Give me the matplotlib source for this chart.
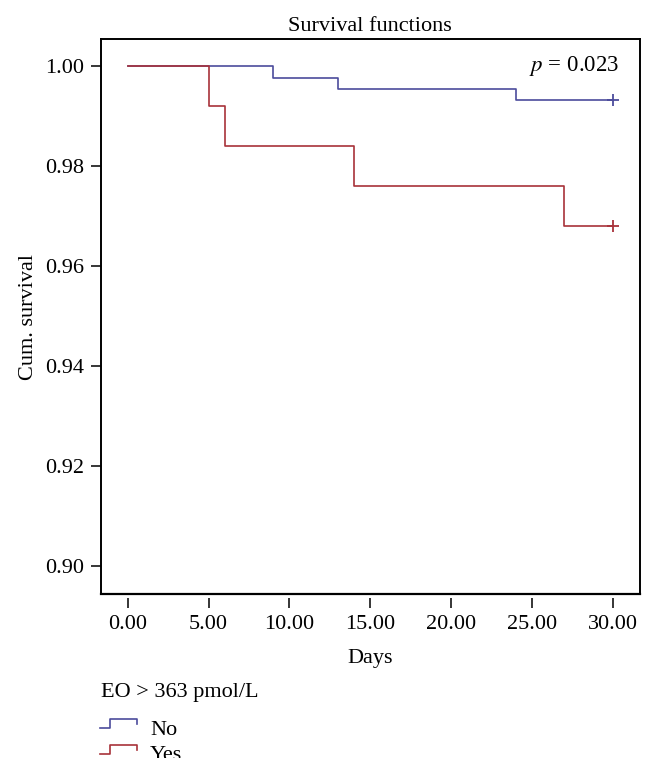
import matplotlib
matplotlib.use("Agg")
import matplotlib.pyplot as plt
from matplotlib.legend_handler import HandlerBase
from matplotlib.lines import Line2D
from matplotlib.patches import Rectangle

# Kaplan-Meier steps
no_days = [0, 9, 13, 24, 30]
no_surv = [1.0, 0.9977, 0.9955, 0.9932, 0.9932]
yes_days = [0, 5, 6, 14, 27, 30]
yes_surv = [1.0, 0.992, 0.984, 0.976, 0.968, 0.968]

x_ticks = [0, 5, 10, 15, 20, 25, 30]
y_ticks = [0.90, 0.92, 0.94, 0.96, 0.98, 1.00]
group_labels = ["No", "Yes"]
legend_title = "EO > 363 pmol/L"

blue = "#4c4c9c"
red = "#a8323a"
fs = 16

plt.rcParams['font.family'] = ['Liberation Serif', 'DejaVu Serif']
plt.rcParams['font.size'] = fs


class StepHandler(HandlerBase):
    # legend glyph drawn as a small step
    def create_artists(self, legend, orig_handle, xdescent, ydescent,
                       width, height, fontsize, trans):
        x0 = -xdescent
        y0 = -ydescent + 0.4 * height
        y1 = y0 + 0.6 * height
        xs = [x0, x0 + 0.27 * width, x0 + 0.27 * width, x0 + width, x0 + width]
        ys = [y0, y0, y1, y1, y0 + 0.45 * (y1 - y0)]
        ln = Line2D(xs, ys, color=orig_handle.get_color(), lw=1.2)
        ln.set_transform(trans)
        return [ln]


fig = plt.figure(figsize=(6.56, 7.71), dpi=100)
ax = fig.add_axes([0.1535, 0.2296, 0.8221, 0.7194])

l1, = ax.step(no_days, no_surv, where='post', color=blue, lw=1.2)
l2, = ax.step(yes_days, yes_surv, where='post', color=red, lw=1.2)
ax.plot(no_days[-1], no_surv[-1], marker='+', color=blue, ms=9, mew=1.3)
ax.plot(yes_days[-1], yes_surv[-1], marker='+', color=red, ms=9, mew=1.3)

ax.set_xlim(-1.67, 31.69)
ax.set_ylim(0.8943, 1.0054)
ax.set_xticks(x_ticks)
ax.set_xticklabels([f"{v:.2f}" for v in x_ticks])
ax.set_yticks(y_ticks)
ax.set_yticklabels([f"{v:.2f}" for v in y_ticks])
ax.tick_params(direction='out', length=7, width=1.1, labelsize=fs, pad=5)

# x ticks sit a little below the frame
ax.spines['bottom'].set_position(('outward', 3))
ax.spines['bottom'].set_color('none')
ax.plot([0, 1], [0, 0], transform=ax.transAxes, color='black', lw=1.6, clip_on=False)
for s in ['left', 'right', 'top']:
    ax.spines[s].set_linewidth(1.4)

ax.set_title("Survival functions", fontsize=fs, pad=6)
ax.set_xlabel("Days", fontsize=fs, labelpad=11)
ax.set_ylabel("Cum. survival", fontsize=fs, labelpad=5)
ax.text(0.961, 0.952, r"$p$ = 0.023", transform=ax.transAxes, ha='right', va='center',
        fontsize=fs + 0.5, math_fontfamily='stix')

# legend below the plot
fig.text(101 / 656, 1 - 693 / 771, legend_title, ha='left', va='center', fontsize=fs)
leg = fig.legend([l1, l2], group_labels, handler_map={Line2D: StepHandler()},
                 loc='upper left', bbox_to_anchor=(100 / 656, 1 - 719 / 771),
                 fontsize=fs, frameon=False, handlelength=1.67,
                 handletextpad=0.58, labelspacing=0.24, borderpad=0, borderaxespad=0)

# the source image is cut off just below the last legend row
fig.add_artist(Rectangle((0, 0), 1, 13.5 / 771, transform=fig.transFigure,
                         facecolor='white', edgecolor='none', zorder=10))

fig.savefig("out.png", dpi=100)
